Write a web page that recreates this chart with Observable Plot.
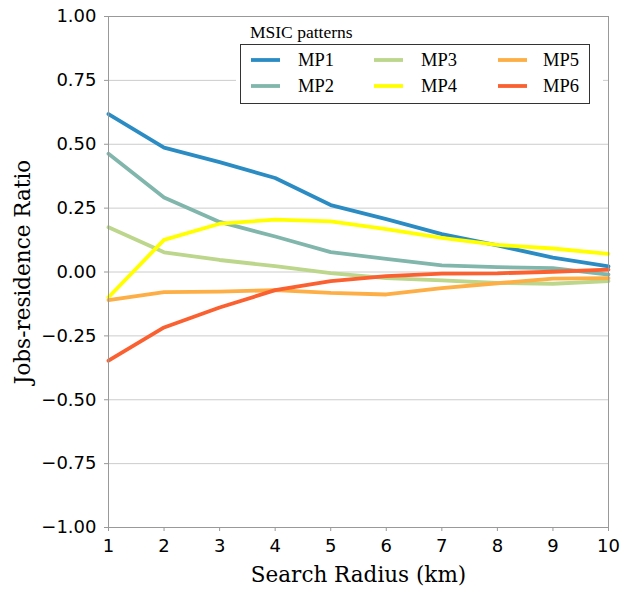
<!DOCTYPE html>
<html><head><meta charset="utf-8">
<script src="https://cdn.jsdelivr.net/npm/d3@7"></script>
<script src="https://cdn.jsdelivr.net/npm/@observablehq/plot@0.6"></script>
<style>body{margin:0;background:#fff} #chart{position:relative;width:626px;height:590px}</style>
</head><body><div id="chart"></div>
<script>
const radius = [1, 2, 3, 4, 5, 6, 7, 8, 9, 10];
const series = ["MP1", "MP2", "MP3", "MP4", "MP5", "MP6"];
const colors = ["#2b8cc4", "#80b6ab", "#bcd68c", "#ffff00", "#fdae45", "#fa6030"];
const mp1 = [0.618, 0.487, 0.430, 0.368, 0.262, 0.207, 0.148, 0.104, 0.056, 0.022];
const mp2 = [0.463, 0.292, 0.196, 0.139, 0.078, 0.051, 0.026, 0.019, 0.015, -0.010];
const mp3 = [0.175, 0.077, 0.047, 0.023, -0.004, -0.024, -0.033, -0.043, -0.046, -0.036];
const mp4 = [-0.099, 0.126, 0.189, 0.205, 0.198, 0.168, 0.134, 0.106, 0.092, 0.071];
const mp5 = [-0.110, -0.079, -0.077, -0.071, -0.082, -0.088, -0.063, -0.044, -0.026, -0.024];
const mp6 = [-0.347, -0.217, -0.139, -0.071, -0.036, -0.016, -0.006, -0.005, 0.001, 0.009];
const yTicks = [-1, -0.75, -0.5, -0.25, 0, 0.25, 0.5, 0.75, 1];
const legendTitle = "MSIC patterns";
const xLabel = "Search Radius (km)";
const yLabel = "Jobs-residence Ratio";

const values = [mp1, mp2, mp3, mp4, mp5, mp6];
const data = [];
series.forEach((s, i) => radius.forEach((r, j) => data.push({s, r, v: values[i][j]})));

const plot = Plot.plot({
  width: 626, height: 590,
  marginLeft: 108, marginRight: 18, marginTop: 16, marginBottom: 63,
  style: {fontFamily: "DejaVu Sans", fontSize: "18px", color: "#000", background: "#fff"},
  x: {domain: [1, 10], label: null},
  y: {domain: [-1, 1], label: null},
  color: {domain: series, range: colors},
  marks: [
    Plot.gridY(yTicks, {stroke: "#cccccc", strokeOpacity: 1, strokeWidth: 1}),
    Plot.line(data, {x: "r", y: "v", z: "s", stroke: "s", strokeWidth: 3.8, strokeLinejoin: "round"}),
    Plot.frame({stroke: "#999"}),
    Plot.axisX(radius, {tickSize: 4, tickPadding: 8, stroke: "#999", label: null, tickFormat: d3.format("d")}),
    Plot.axisY(yTicks, {tickSize: 4, tickPadding: 8, stroke: "#999", label: null, tickFormat: d3.format(".2f")}),
    Plot.text([xLabel], {frameAnchor: "bottom", dy: 48, text: d => d, fontFamily: "DejaVu Serif", fontSize: 21.5, lineAnchor: "middle", textAnchor: "middle"}),
    Plot.text([yLabel], {frameAnchor: "left", dx: -85, rotate: -90, text: d => d, fontFamily: "DejaVu Serif", fontSize: 21.5, lineAnchor: "middle", textAnchor: "middle"})
  ]
});
document.getElementById("chart").appendChild(plot);

// legend drawn into the svg
const svg = d3.select(plot);
const g = svg.append("g").attr("font-family", "Liberation Serif").attr("text-anchor", "start");
g.append("rect").attr("x", 236).attr("y", 17).attr("width", 367).attr("height", 91).attr("fill", "#fff");
g.append("text").attr("x", 250).attr("y", 38).attr("font-size", 17.5).attr("fill", "#000").text(legendTitle);
g.append("rect").attr("x", 240.5).attr("y", 44.5).attr("width", 349).attr("height", 59)
  .attr("fill", "none").attr("stroke", "#333").attr("stroke-width", 1);
const colX = [251, 374, 498];
const textX = [298, 421, 543];
const rowY = [60, 86];
series.forEach((s, i) => {
  const c = Math.floor(i / 2), r = i % 2;
  g.append("line").attr("x1", colX[c]).attr("x2", colX[c] + 29).attr("y1", rowY[r]).attr("y2", rowY[r])
    .attr("stroke", colors[i]).attr("stroke-width", 3.8);
  g.append("text").attr("x", textX[c]).attr("y", rowY[r] + 6).attr("font-size", 18.5).attr("fill", "#000").text(s);
});
</script>
</body></html>
